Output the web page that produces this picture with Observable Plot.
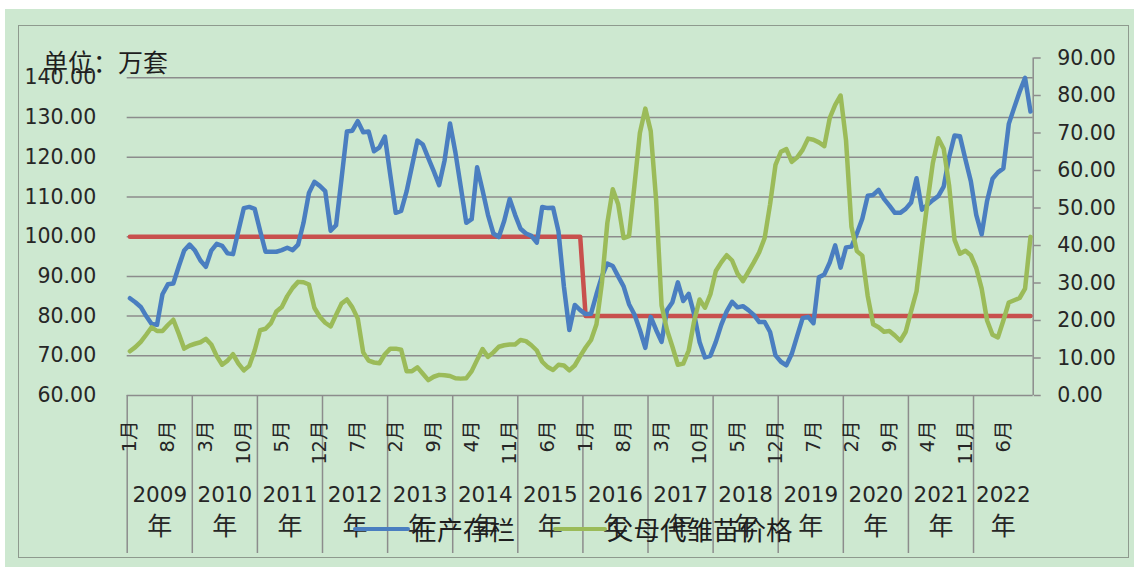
<!DOCTYPE html>
<html><head><meta charset="utf-8">
<script src="https://cdn.jsdelivr.net/npm/d3@7"></script>
<script src="https://cdn.jsdelivr.net/npm/@observablehq/plot@0.6"></script>
<style>
html,body{margin:0;padding:0;background:#fff;}
#wrap{position:relative;width:1134px;height:567px;overflow:hidden;}
#bg{position:absolute;left:5px;top:9px;right:0;bottom:0;background:#CDE8D0;}
#frame{position:absolute;left:18px;top:25px;width:1111px;height:533px;border:1.5px solid #8E9A8E;box-sizing:border-box;}
#chart{position:absolute;left:0;top:0;}
.cjk{font-family:"Noto Sans CJK SC";color:#1e1e1e;white-space:nowrap;position:absolute;}
.sw{position:absolute;height:4.5px;border-radius:2px;}
</style></head>
<body>
<div id="wrap">
  <div id="bg"></div>
  <div id="frame"></div>
  <div id="chart"></div>
  <div class="cjk" id="unit" style="left:43px;top:46px;font-size:25px;line-height:30px;"></div>
  <div id="legend"></div>
</div>
<script>
// ---- data ----
const years = [2009,2010,2011,2012,2013,2014,2015,2016,2017,2018,2019,2020,2021,2022];
const monthNames = ["1月","2月","3月","4月","5月","6月","7月","8月","9月","10月","11月","12月"];
const lastYearMonths = 11;
const unitLabel = "单位：万套";
const seriesNames = ["在产存栏","父母代雏苗价格"];
// 在产存栏 (left axis, 万套)
const stock = [
84.5,83.5,82.3,80,78,77.8,85.5,88,88.2,92.5,
96.5,98,96.5,94,92.4,96.5,98.2,97.7,95.8,95.6,
101.5,107.2,107.5,107,101.5,96.2,96.2,96.2,96.6,97.2,
96.6,98,103.5,111,113.8,112.8,111.5,101.5,102.9,114.5,
126.5,126.7,129.1,126.3,126.5,121.5,122.5,125.2,115.5,106,
106.5,111.4,117.8,124.2,123.2,119.8,116.5,113,119.2,128.5,
121.2,112.4,103.5,104.4,117.5,111.7,105.5,100.8,99.9,104,
109.5,105.5,102,100.8,100.2,98.5,107.5,107.2,107.3,101.3,
87.4,76.5,82.8,81.5,80.5,80.6,85.5,90,93.2,92.6,
90,87.5,83,80.4,76.5,72,79.8,76.5,73.5,81.5,
83.5,88.5,83.8,85.6,80.5,73.5,69.6,70,73.5,77.8,
81.2,83.6,82.2,82.5,81.5,80.3,78.5,78.5,76,70.1,
68.5,67.6,70.5,75,79.5,79.8,78.2,89.8,90.5,93.5,
97.8,92.2,97.3,97.5,100.8,104.5,110.3,110.5,111.8,109.5,
107.8,106,106,107,108.6,114.7,106.8,108,109.2,110.2,
112.6,120,125.5,125.3,119.5,114,105.5,100.6,109,114.6,
116.2,117.2,128.4,132.5,136.5,140,131.5
];
// 父母代雏苗价格 (right axis)
const price = [
11.8,12.9,14.3,16.2,18.2,17.2,17.2,18.8,20.2,16.5,
12.5,13.3,13.8,14.2,15.1,13.6,10.5,8.2,9.3,11,
8.5,6.7,7.9,12,17.4,17.8,19.3,22.4,23.6,26.5,
28.7,30.3,30.2,29.6,23.4,21,19.4,18.4,21.5,24.5,
25.6,23.5,20.5,11.5,9.3,8.8,8.6,11,12.5,12.5,
12.2,6.5,6.5,7.5,5.8,4.1,5,5.5,5.4,5.2,
4.6,4.5,4.6,6.5,9.5,12.4,10.3,11.5,13,13.4,
13.6,13.6,14.8,14.5,13.4,12,9,7.6,6.8,8.2,
8,6.7,8,10.5,12.8,14.8,19,30,46,55,
51,42,42.5,56,70,76.5,70.5,52,24,17.5,
13,8.2,8.5,12,19.8,25.6,23.4,27,33.2,35.5,
37.4,36,32.5,30.5,33,35.5,38.2,42,51,61.5,
65,65.7,62.3,63.5,65.5,68.5,68.2,67.5,66.5,74,
77.5,80,68,45,38.5,37.3,26.5,19,18.2,17,
17.2,16,14.6,17,22.5,27.8,40,51.5,62,68.6,
65.8,56,41.5,37.8,38.6,37.4,34,28.5,20,16.2,
15.5,20,24.8,25.4,26,28.5,42.3
];
const refLevels = [100, 80];      // red reference line (left axis)
const refChangeYear = 2016;        // level switches at Jan of this year
const leftTicks = [60,70,80,90,100,110,120,130,140];
const rightTicks = [0,10,20,30,40,50,60,70,80,90];
const leftDomain = [60,145];
const rightDomain = [0,90];
const colors = {stock:"#4A7EC0", price:"#9BBB59", ref:"#C8504D", grid:"#8C8C8C"};

// ---- build table ----
const cats = [];
years.forEach((y,k) => {
  const n = k === years.length-1 ? lastYearMonths : 12;
  for (let m = 0; m < n; m++) cats.push({year:y, month:monthNames[m], i:cats.length});
});
const rows = cats.map((c,i) => ({...c, stock:stock[i], price:price[i],
  ref: c.year < refChangeYear ? refLevels[0] : refLevels[1]}));
const toLeft = v => leftDomain[0] + (v - rightDomain[0]) * (leftDomain[1]-leftDomain[0]) / (rightDomain[1]-rightDomain[0]);
const fromLeft = v => rightDomain[0] + (v - leftDomain[0]) * (rightDomain[1]-rightDomain[0]) / (leftDomain[1]-leftDomain[0]);
const yearRows = years.map(y => {
  const idx = cats.filter(c => c.year === y).map(c => c.i);
  return {year:y, start:idx[0], center:(idx[0]+idx[idx.length-1])/2};
});

const chart = Plot.plot({
  width:1134, height:567,
  marginLeft:126.7, marginRight:101.3, marginTop:57.5, marginBottom:172,
  x:{type:"linear", domain:[-0.5, cats.length-0.5], axis:null},
  y:{domain:leftDomain},
  style:{background:"transparent", fontFamily:"DejaVu Sans", fontSize:"20.5px", color:"#262626", overflow:"visible"},
  marks:[
    Plot.ruleY(leftTicks, {stroke:colors.grid, strokeWidth:1.5}),
    Plot.ruleX(yearRows, {x:d => d.start-0.5, stroke:colors.grid, strokeWidth:1.5, insetTop:337.5, insetBottom:-158}),
    Plot.ruleX([cats.length-0.5], {stroke:colors.grid, strokeWidth:1.5}),
    Plot.axisY(leftTicks, {anchor:"left", tickSize:0, tickPadding:31, tickFormat:d => d.toFixed(2), label:null}),
    Plot.axisY(rightTicks.map(toLeft), {anchor:"right", tickSize:7, tickPadding:17, stroke:colors.grid, strokeWidth:1.5,
      tickFormat:v => Math.abs(fromLeft(v)).toFixed(2), label:null}),
    Plot.text(cats.filter(c => c.i % 7 === 0), {x:"i", text:"month", frameAnchor:"bottom", dy:25, rotate:-90,
      textAnchor:"end", lineAnchor:"middle", fontSize:19.5, fontFamily:"DejaVu Sans, Noto Sans CJK SC"}),
    Plot.text(yearRows, {x:"center", text:d => String(d.year), frameAnchor:"bottom", dy:106.7, fontSize:21.5}),
    Plot.text(yearRows, {x:"center", text:() => "年", frameAnchor:"bottom", dy:139, fontSize:25, fontFamily:"Noto Sans CJK SC"}),
    Plot.line(rows, {x:"i", y:"ref", stroke:colors.ref, strokeWidth:4.5}),
    Plot.line(rows, {x:"i", y:"stock", stroke:colors.stock, strokeWidth:4.5}),
    Plot.line(rows, {x:"i", y:d => toLeft(d.price), stroke:colors.price, strokeWidth:4.5})
  ]
});
document.getElementById("chart").appendChild(chart);
document.getElementById("unit").textContent = unitLabel;

// legend
const lg = document.getElementById("legend");
const items = [
  {name:seriesNames[0], color:colors.stock, sx:353, sw:57, tx:411, fs:26},
  {name:seriesNames[1], color:colors.price, sx:553, sw:54, tx:607, fs:26.5}
];
items.forEach(it => {
  const s = document.createElement("div");
  s.className = "sw";
  s.style.cssText = `left:${it.sx}px;top:526.5px;width:${it.sw}px;background:${it.color};`;
  lg.appendChild(s);
  const t = document.createElement("div");
  t.className = "cjk";
  t.style.cssText = `left:${it.tx}px;top:513px;font-size:${it.fs}px;line-height:32px;`;
  t.textContent = it.name;
  lg.appendChild(t);
});
</script>
</body></html>
